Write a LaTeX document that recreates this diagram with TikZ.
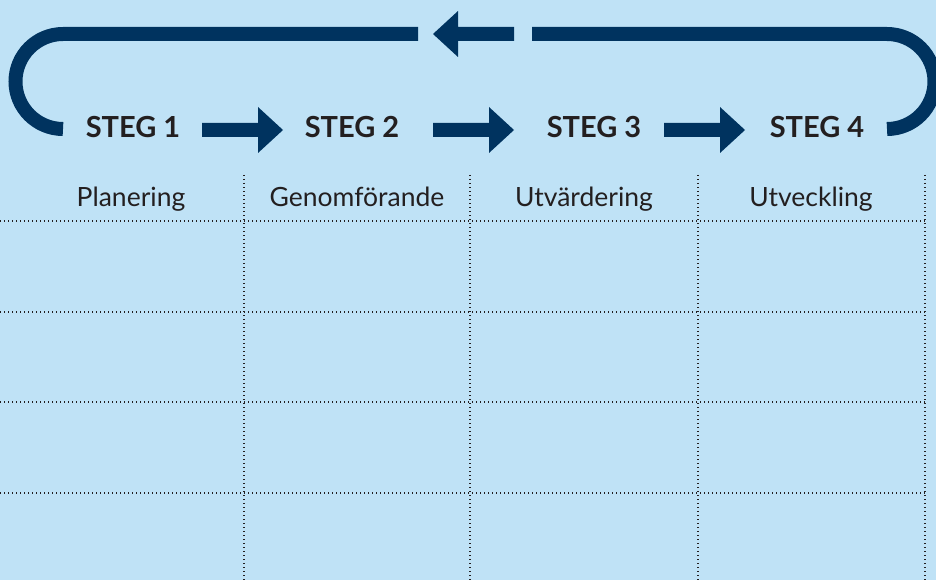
\documentclass[tikz,border=0pt]{standalone}
\usepackage{fontspec}
\setmainfont{Lato}
\definecolor{bg}{HTML}{BFE2F6}
\definecolor{navy}{HTML}{00335F}
\definecolor{ink}{HTML}{231F20}
\newcommand\blockarrow[3]{\fill[navy] (#1,#3-7) -- (#2-25,#3-7) -- (#2-25,#3-23) -- (#2,#3) -- (#2-25,#3+23) -- (#2-25,#3+7) -- (#1,#3+7) -- cycle;}
\newcommand\backarrow[3]{\fill[navy] (#1,#3-7) -- (#2+25,#3-7) -- (#2+25,#3-23) -- (#2,#3) -- (#2+25,#3+23) -- (#2+25,#3+7) -- (#1,#3+7) -- cycle;}
\begin{document}
\begin{tikzpicture}[x=1pt,y=-1pt,
  steplabel/.style={anchor=base,text=ink,font=\fontsize{29}{29}\selectfont\bfseries,inner sep=0pt},
  collabel/.style={anchor=base,text=ink,font=\fontsize{26.5}{26.5}\selectfont,inner sep=0pt},
  grid/.style={ink,line width=1.2pt,dash pattern=on 1.2pt off 2.8pt},
  loop/.style={navy,line width=14pt}]
\fill[bg] (0,0) rectangle (936,580);
\useasboundingbox (0,0) rectangle (936,580);
% grid
\foreach \y in {221,312,402,493}{\draw[grid] (0,\y) -- (925,\y);}
\foreach \x in {244,470,698,925}{\draw[grid] (\x,175) -- (\x,580);}
% step labels
\node[steplabel] (s1) at (133,138) {STEG 1};
\node[steplabel] (s2) at (352,138) {STEG 2};
\node[steplabel] (s3) at (594,138) {STEG 3};
\node[steplabel] (s4) at (817,138) {STEG 4};
% column labels
\node[collabel] (c1) at (131,206) {Planering};
\node[collabel] (c2) at (357,206) {Genomförande};
\node[collabel] (c3) at (584,206) {Utvärdering};
\node[collabel] (c4) at (811,206) {Utveckling};
% step arrows
\blockarrow{202}{283}{130}
\blockarrow{433}{514}{130}
\blockarrow{664}{745}{130}
% loop
\draw[loop] (418,34) -- (63,34) arc[start angle=-90,end angle=-270,radius=47.5];
\draw[loop] (532,34) -- (887,34) arc[start angle=-90,end angle=90,radius=47.5];
\backarrow{514}{433}{34}
\end{tikzpicture}
\end{document}
